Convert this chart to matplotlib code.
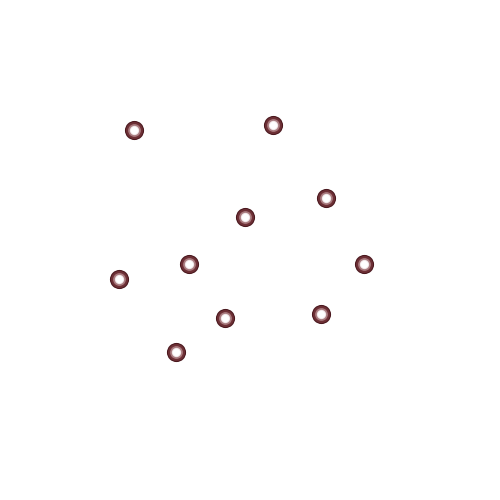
import matplotlib
matplotlib.use("Agg")
import matplotlib.pyplot as plt

# point positions (pixel-like units, y downward)
xs = [134, 273, 326, 245, 189, 364, 119, 225, 321, 176]
ys = [130, 125, 198, 217, 264, 264, 279, 318, 314, 352]

fig = plt.figure(figsize=(5, 5), dpi=100)
ax = fig.add_axes([0, 0, 1, 1])
ax.set_xlim(0, 500)
ax.set_ylim(500, 0)
ax.axis("off")

# layered markers to mimic a shaded ring
ax.scatter(xs, ys, s=190, color="#4a181e", linewidths=0, zorder=2)
ax.scatter(xs, ys, s=150, color="#6e3036", linewidths=0, zorder=3)
ax.scatter(xs, ys, s=85, color="#a87a7e", linewidths=0, zorder=4)
ax.scatter(xs, ys, s=45, color="#f0e6e7", linewidths=0, zorder=5)
ax.scatter(xs, ys, s=28, color="white", linewidths=0, zorder=6)

fig.savefig("out.png", dpi=100)
